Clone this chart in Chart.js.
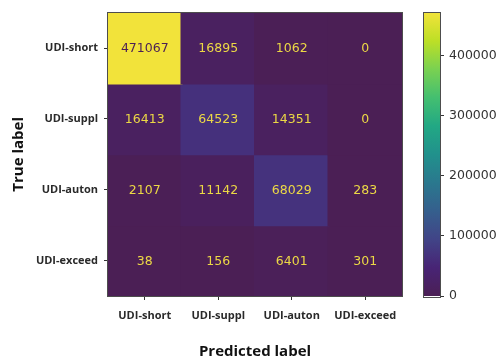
<!DOCTYPE html>
<html>
<head>
<meta charset="utf-8">
<script src="https://cdn.jsdelivr.net/npm/chart.js@4.4.1/dist/chart.umd.min.js"></script>
<style>
  html, body { margin: 0; padding: 0; background: #ffffff; }
  #wrap { position: relative; width: 498px; height: 361px; }
  #matrixBox { position: absolute; left: 0; top: 0; width: 415px; height: 361px; }
  #barBox { position: absolute; left: 415px; top: 0; width: 83px; height: 361px; }
</style>
</head>
<body>
<div id="wrap">
  <div id="matrixBox"><canvas id="matrix"></canvas></div>
  <div id="barBox"><canvas id="colorbar"></canvas></div>
</div>
<script>
// Class names (true label rows / predicted label columns)
const rowLabels = ['UDI-short', 'UDI-suppl', 'UDI-auton', 'UDI-exceed'];
const colLabels = ['UDI-short', 'UDI-suppl', 'UDI-auton', 'UDI-exceed'];

// Counts per true class, one entry per predicted class
const shortRow  = [471067, 16895, 1062, 0];
const supplRow  = [16413, 64523, 14351, 0];
const autonRow  = [2107, 11142, 68029, 283];
const exceedRow = [38, 156, 6401, 301];
const counts = [shortRow, supplRow, autonRow, exceedRow];

// Colour bar tick values
const colorbarTicks = [0, 100000, 200000, 300000, 400000];

const maxCount = Math.max(...counts.flat());

// Viridis colour stops
const viridis = ['#4b1f55', '#482475', '#414487', '#355f8d', '#2a788e',
                 '#21918c', '#22a884', '#44bf70', '#7ad151', '#bddf26', '#f2e33a'];

function hexToRgb(h) {
  return [parseInt(h.slice(1, 3), 16), parseInt(h.slice(3, 5), 16), parseInt(h.slice(5, 7), 16)];
}
function viridisAt(t) {
  t = Math.min(1, Math.max(0, t));
  const pos = t * (viridis.length - 1);
  const i = Math.min(viridis.length - 2, Math.floor(pos));
  const f = pos - i;
  const a = hexToRgb(viridis[i]), b = hexToRgb(viridis[i + 1]);
  const c = a.map((v, k) => Math.round(v + (b[k] - v) * f));
  return `rgb(${c[0]},${c[1]},${c[2]})`;
}

const tickFont = { family: '"Open Sans", sans-serif', size: 11, weight: 'bold' };
const numFont = '12.5px "DejaVu Sans", sans-serif';
const titleFont = { family: '"Open Sans", sans-serif', size: 15, weight: 'bold' };
const frameColor = '#4d4d4d';
const tickColor = '#333333';

// Outline around the plotting area (all four spines)
const framePlugin = {
  id: 'frame',
  afterDraw(chart) {
    const { ctx, chartArea: a } = chart;
    ctx.save();
    ctx.strokeStyle = frameColor;
    ctx.lineWidth = 1;
    ctx.strokeRect(Math.round(a.left) - 0.5, Math.round(a.top) - 0.5,
                   Math.round(a.right - a.left) + 1, Math.round(a.bottom - a.top) + 1);
    ctx.restore();
  }
};

// Count written in the middle of each cell
const cellTextPlugin = {
  id: 'cellText',
  afterDatasetsDraw(chart) {
    const { ctx } = chart;
    ctx.save();
    ctx.font = numFont;
    ctx.textAlign = 'center';
    ctx.textBaseline = 'middle';
    chart.data.datasets.forEach((ds, i) => {
      const meta = chart.getDatasetMeta(i);
      meta.data.forEach((bar, j) => {
        const p = bar.getProps(['x', 'y', 'base'], true);
        const v = counts[i][j];
        ctx.fillStyle = v / maxCount > 0.5 ? viridis[0] : '#ecd845';
        ctx.fillText(String(v), p.x, (p.y + p.base) / 2 + 1);
      });
    });
    ctx.restore();
  }
};

// Each true-class row is a dataset of floating bars spanning [row, row + 1]
const datasets = counts.map((row, i) => ({
  label: rowLabels[i],
  data: row.map(() => [i, i + 1]),
  backgroundColor: row.map(v => viridisAt(v / maxCount)),
  borderWidth: 0,
  inflateAmount: 1,
  grouped: false,
  barPercentage: 1,
  categoryPercentage: 1
}));

new Chart(document.getElementById('matrix'), {
  type: 'bar',
  data: { labels: colLabels, datasets },
  options: {
    responsive: true,
    maintainAspectRatio: false,
    animation: false,
    layout: { padding: { top: 10, right: 13, left: 0, bottom: 0 } },
    plugins: { legend: { display: false }, tooltip: { enabled: false } },
    scales: {
      x: {
        type: 'category',
        offset: true,
        grid: { display: true, drawOnChartArea: false, offset: false, tickLength: 4, color: tickColor },
        border: { display: true, color: frameColor },
        ticks: { font: tickFont, color: '#2a2a2a', padding: 9, maxRotation: 0 },
        title: { display: true, text: 'Predicted label', font: titleFont, color: '#111', padding: { top: 0, bottom: 0 } },
        afterFit(scale) { scale.height = 65; }
      },
      y: {
        type: 'linear',
        min: 0,
        max: rowLabels.length,
        reverse: true,
        grid: { display: true, drawOnChartArea: false, tickLength: 4, color: tickColor },
        border: { display: true, color: frameColor },
        afterBuildTicks(scale) { scale.ticks = rowLabels.map((_, i) => ({ value: i + 0.5 })); },
        ticks: {
          font: tickFont, color: '#2a2a2a', padding: 6,
          callback: (value) => rowLabels[Math.floor(value)]
        },
        title: { display: true, text: 'True label', font: titleFont, color: '#111', padding: { top: 10, bottom: 0 } },
        afterFit(scale) { scale.width = 108; }
      }
    }
  },
  plugins: [cellTextPlugin, framePlugin]
});

// Colour bar: a single floating bar from 0 to the largest count, filled with the colour map
new Chart(document.getElementById('colorbar'), {
  type: 'bar',
  data: {
    labels: [''],
    datasets: [{
      data: [[0, maxCount]],
      borderWidth: 0,
      inflateAmount: 1,
      barPercentage: 1,
      categoryPercentage: 1,
      backgroundColor(ctx) {
        const chart = ctx.chart;
        const y = chart.scales.y;
        if (!chart.chartArea || !y) return viridis[0];
        const g = chart.ctx.createLinearGradient(0, y.getPixelForValue(0), 0, y.getPixelForValue(maxCount));
        viridis.forEach((c, k) => g.addColorStop(k / (viridis.length - 1), c));
        return g;
      }
    }]
  },
  options: {
    responsive: true,
    maintainAspectRatio: false,
    animation: false,
    layout: { padding: { top: 10, left: 9, right: 0, bottom: 65 } },
    plugins: { legend: { display: false }, tooltip: { enabled: false } },
    scales: {
      x: { display: false },
      y: {
        position: 'right',
        min: 0,
        max: maxCount,
        grid: { display: true, drawOnChartArea: false, tickLength: 4, color: tickColor },
        border: { display: true, color: frameColor },
        afterBuildTicks(scale) { scale.ticks = colorbarTicks.map(v => ({ value: v })); },
        ticks: {
          font: { family: '"DejaVu Sans", sans-serif', size: 12.5 },
          color: '#333', padding: 5,
          callback: (v) => String(v)
        },
        afterFit(scale) { scale.width = 58; }
      }
    }
  },
  plugins: [framePlugin]
});
</script>
</body>
</html>
